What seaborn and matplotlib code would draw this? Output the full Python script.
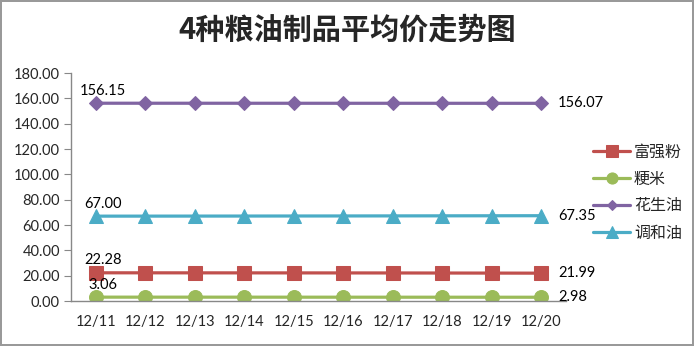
import matplotlib
matplotlib.use("Agg")
import matplotlib.pyplot as plt
import seaborn as sns
import pandas as pd

dates = ["12/11", "12/12", "12/13", "12/14", "12/15", "12/16", "12/17", "12/18", "12/19", "12/20"]
series_names = ["富强粉", "粳米", "花生油", "调和油"]
fuqiangfen = [22.28, 22.26, 22.24, 22.22, 22.20, 22.18, 22.15, 22.10, 22.05, 21.99]
jingmi = [3.06, 3.05, 3.05, 3.04, 3.03, 3.02, 3.01, 3.00, 2.99, 2.98]
huashengyou = [156.15, 156.14, 156.13, 156.12, 156.11, 156.10, 156.10, 156.09, 156.08, 156.07]
tiaoheyou = [67.00, 67.02, 67.05, 67.08, 67.12, 67.15, 67.20, 67.25, 67.30, 67.35]
yticks = [0, 20, 40, 60, 80, 100, 120, 140, 160, 180]

values = [fuqiangfen, jingmi, huashengyou, tiaoheyou]
colors = ["#C0504D", "#9BBB59", "#8064A2", "#4BACC6"]
markers = ["s", "o", "D", "^"]
msizes = [10, 10, 7, 10]

sns.set_style("white")
plt.rcParams["font.family"] = ["Lato", "Noto Sans CJK SC", "DejaVu Sans"]

fig = plt.figure(figsize=(6.94, 3.46), dpi=100)
fig.patch.set_edgecolor("#999999")
fig.patch.set_linewidth(1.5)
ax = fig.add_axes([0.1023, 0.130, 0.7133, 0.659])

numfs = 10.5
for name, vals, c, m, ms in zip(series_names, values, colors, markers, msizes):
    df = pd.DataFrame({"x": range(len(dates)), "y": vals})
    sns.lineplot(data=df, x="x", y="y", ax=ax, color=c, marker=m, markersize=ms,
                 markeredgecolor=c, linewidth=2.3, label=name)
    ax.annotate(f"{vals[0]:.2f}", (0, vals[0]), xytext=(5, 4), textcoords="offset points",
                ha="center", va="bottom", fontsize=numfs, color="black")
    ax.annotate(f"{vals[-1]:.2f}", (len(dates) - 1, vals[-1]), xytext=(12, 0),
                textcoords="offset points", ha="left", va="center", fontsize=numfs, color="black")

ax.set_xlim(-0.5, len(dates) - 0.5)
ax.set_ylim(0, 180)
ax.set_yticks(yticks)
ax.set_yticklabels([f"{v:.2f}" for v in yticks], fontsize=numfs)
ax.set_xticks(range(len(dates)))
ax.set_xticklabels(dates, fontsize=numfs)
ax.set_xticks([i - 0.5 for i in range(len(dates) + 1)], minor=True)
ax.tick_params(axis="x", which="major", length=0, pad=10)
ax.tick_params(axis="x", which="minor", length=5, color="#888888", direction="out")
ax.tick_params(axis="y", length=5, color="#888888", direction="out", left=True, pad=3)
ax.set_xlabel("")
ax.set_ylabel("")
for s in ["top", "right"]:
    ax.spines[s].set_visible(False)
for s in ["left", "bottom"]:
    ax.spines[s].set_color("#888888")
    ax.spines[s].set_linewidth(1)

leg = ax.legend(loc="center left", bbox_to_anchor=(1.0, 0.475), frameon=False, fontsize=11.5,
                handlelength=2.3, labelspacing=0.8, handletextpad=0.25, borderaxespad=1.3,
                markerscale=0.8)

fig.text(0.5, 0.913, "4种粮油制品平均价走势图", ha="center", va="center", fontsize=21,
         fontweight="bold", family=["Noto Sans CJK SC", "DejaVu Sans"])

fig.savefig("out.png", dpi=100, edgecolor=fig.get_edgecolor())
